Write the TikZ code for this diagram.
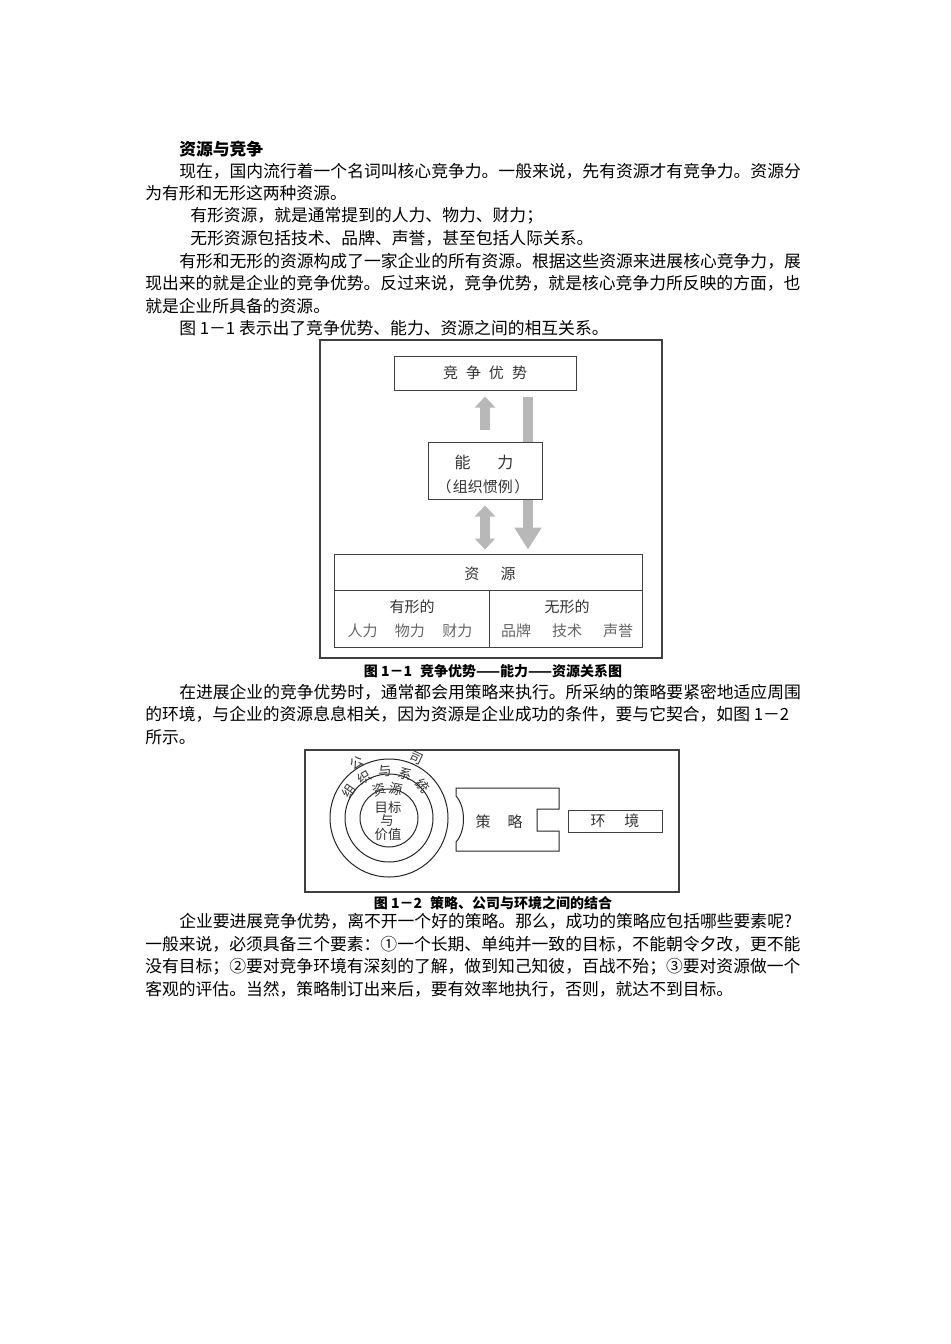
\documentclass[tikz,border=0pt]{standalone}
\usepackage{fontspec}
\setmainfont{Noto Sans CJK SC}
\usetikzlibrary{positioning,calc,arrows.meta}
\XeTeXlinebreaklocale "zh"
\XeTeXlinebreakskip=0pt plus 2pt
\newcommand\jl{\noindent\parfillskip=0pt\relax}

\tikzset{
  body/.style={anchor=west, inner sep=0pt, font=\fontsize{12.6}{15}\selectfont},
  full/.style={body, text width=#1, align=justify},
  capt/.style={inner sep=0pt, font=\fontsize{10.5}{13}\selectfont\bfseries},
  frame/.style={draw=black!75, line width=0.9pt},
  figbox/.style={draw=black!75, line width=0.75pt, fill=white, inner sep=0pt, text=black!80, font=\fontsize{11.25}{13}\selectfont},
  figtxt/.style={inner sep=0pt, text=black!80, font=\fontsize{11.25}{13}\selectfont},
  graytxt/.style={figtxt, text=black!60},
  ringtxt/.style={inner sep=0pt, text=black!80, font=\fontsize{10}{12}\selectfont},
  ring/.style={draw=black!85, line width=0.75pt},
  grayarrow/.style={line width=7.5pt, draw=black!28},
}

\begin{document}
\begin{tikzpicture}[x=0.75pt,y=-0.75pt]
    \useasboundingbox (0,0) rectangle (950,1344);
    \fill[white] (0,0) rectangle (950,1344);

    % text above figure 1
    \node[body, font=\fontsize{12.6}{15}\selectfont\bfseries] (title) at (179,149) {资源与竞争};
    \node[full=468.75pt] (l1) at (179,171) {\jl 现在，国内流行着一个名词叫核心竞争力。一般来说，先有资源才有竞争力。资源分};
    \node[body] (l2) at (145,193.5) {为有形和无形这两种资源。};
    \node[body] (l3) at (190,216) {有形资源，就是通常提到的人力、物力、财力；};
    \node[body] (l4) at (190,238.5) {无形资源包括技术、品牌、声誉，甚至包括人际关系。};
    \node[full=468.75pt] (l5) at (179,261) {\jl 有形和无形的资源构成了一家企业的所有资源。根据这些资源来进展核心竞争力，展};
    \node[full=494.25pt] (l6) at (145,283.5) {\jl 现出来的就是企业的竞争优势。反过来说，竞争优势，就是核心竞争力所反映的方面，也};
    \node[body] (l7) at (145,306) {就是企业所具备的资源。};
    \node[body] (l8) at (179,328.5) {图 1－1 表示出了竞争优势、能力、资源之间的相互关系。};

    % figure 1
    \draw[frame] (320,340) rectangle (662,658);
    \node[figbox, minimum width=136.5pt, minimum height=25.5pt] (adv) at (485,373) {竞\hspace{6pt}争\hspace{6pt}优\hspace{6pt}势};
    \node[figbox, minimum width=231pt, minimum height=69.75pt] (res) at (488,600.5) {};
    \draw[grayarrow, -{Triangle[width=19.5pt,length=16.5pt]}] ($(adv.south)+(43,6)$) -- ($(res.north)+(40,-4)$);
    \node[figbox, minimum width=85.5pt, minimum height=42.75pt] (cap) at (485,470.5) {};
    \node[figtxt, font=\fontsize{12}{14}\selectfont] (capA) at (484,462) {能\hspace{20pt}力};
    \node[figtxt] (capB) at (483,487) {（\hspace{1pt}组织惯例\hspace{1pt}）};
    \draw[grayarrow, -{Triangle[width=15pt,length=8.25pt]}, shorten <=9pt, shorten >=4.5pt] (cap.north) -- (adv.south);
    \draw[grayarrow, {Triangle[width=15pt,length=8.25pt]}-{Triangle[width=15pt,length=8.25pt]}, shorten <=4.5pt, shorten >=3pt] (cap.south) -- (cap.south |- res.north);
    \draw[draw=black!75, line width=0.75pt] (334,590) -- (642,590) (489,590) -- (489,647);
    \node[figtxt] (resT) at (490,574) {资\hspace{16pt}源};
    \node[figtxt] (tang) at (412,607) {有形的};
    \node[graytxt] (tangI) at (410,631) {人力\hspace{13pt}物力\hspace{13pt}财力};
    \node[figtxt] (intang) at (567,607) {无形的};
    \node[graytxt] (intangI) at (567,631) {品牌\hspace{15.75pt}技术\hspace{15.75pt}声誉};
    \node[capt] (cap1) at (493,671) {图 1－1\hspace{6pt}竞争优势——能力——资源关系图};

    % text between the figures
    \node[full=468.75pt] (m1) at (179,692) {\jl 在进展企业的竞争优势时，通常都会用策略来执行。所采纳的策略要紧密地适应周围};
    \node[full=494.25pt] (m2) at (145,714.5) {\jl 的环境，与企业的资源息息相关，因为资源是企业成功的条件，要与它契合，如图 1－2};
    \node[body] (m3) at (145,737) {所示。};

    % figure 2
    \draw[frame] (305,750) rectangle (679,892);
    \coordinate (cc) at (389,818);
    \draw[ring] (cc) circle[radius=59] (cc) circle[radius=44] (cc) circle[radius=29];
    \foreach \ch/\ang/\rad [count=\i] in {公/120/64, 司/65/66, 组/146/48, 织/122/47, 与/95/47, 系/70/47, 统/44/47, 资/108/30, 源/77/30}
        \node[ringtxt, rotate=\ang-90] (ring\i) at ($(cc)+(-\ang:\rad)$) {\ch};
    \node[ringtxt] (core1) at (388,807) {目标};
    \node[ringtxt] (core2) at (387,820.5) {与};
    \node[ringtxt] (core3) at (388,834) {价值};
    \draw[ring] (456,788) -- (559,788) -- (559,809) -- (537,809) -- (537,831) -- (559,831) -- (559,851) -- (456,851) -- (456,842) .. controls (466,831) and (466,807) .. (456,796) -- cycle;
    \node[figtxt] (strat) at (499,822) {策\hspace{12.75pt}略};
    \node[figbox, minimum width=70.5pt, minimum height=16.5pt] (env) at (615,821) {环\hspace{14pt}境};
    \node[capt] (cap2) at (493,903) {图 1－2\hspace{6pt}策略、公司与环境之间的结合};

    % text below figure 2
    \node[full=468.75pt] (n1) at (179,921) {\jl 企业要进展竞争优势，离不开一个好的策略。那么，成功的策略应包括哪些要素呢?};
    \node[full=494.25pt] (n2) at (145,944) {\jl 一般来说，必须具备三个要素：①一个长期、单纯并一致的目标，不能朝令夕改，更不能};
    \node[full=494.25pt] (n3) at (145,966.5) {\jl 没有目标；②要对竞争环境有深刻的了解，做到知己知彼，百战不殆；③要对资源做一个};
    \node[body] (n4) at (145,989) {客观的评估。当然，策略制订出来后，要有效率地执行，否则，就达不到目标。};
\end{tikzpicture}
\end{document}
